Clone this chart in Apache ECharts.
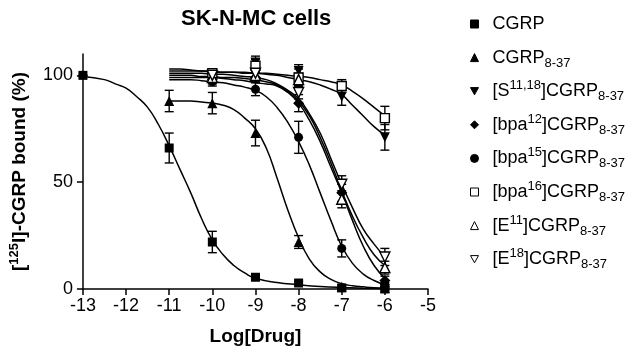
<!DOCTYPE html>
<html lang="en">
<head>
    <meta charset="UTF-8">
    <title>SK-N-MC cells</title>
    <script src="https://cdn.jsdelivr.net/npm/echarts@6/dist/echarts.min.js"></script>
    <style>
        *{
            margin: 0;
            padding: 0;
        }
        body{
            background-color: #fff;
            overflow: hidden;
        }
    </style>
</head>
<body>
<div id="main" style="width:640px;height:354px;"></div>
<script>
    // measured points (log dose, % bound, sem)
    var cgrpX = [-13, -11, -10, -9, -8, -7, -6];
    var cgrpY = [100, 66, 22, 5.5, 2.8, 0.5, 0];
    var cgrpErr = [0, 7, 5, 1, 0.8, 0.5, 0.5];

    var cgrp837X = [-11, -10, -9, -8, -7, -6];
    var cgrp837Y = [88, 87, 73, 22, 1, 0.5];
    var cgrp837Err = [5, 5, 6, 3, 1, 0.5];

    // the analogues were measured from -10 to -6
    var doseX = [-10, -9, -8, -7, -6];
    var s1118Y = [100, 106, 102, 90, 71];
    var s1118Err = [2, 3, 3, 4, 6];
    var bpa12Y = [98, 99, 87, 45, 4];
    var bpa12Err = [2, 2, 4, 4, 2];
    var bpa15Y = [97, 93.5, 71, 19, 2];
    var bpa15Err = [2, 3, 7.5, 4, 1];
    var bpa16Y = [101, 104.5, 99, 95, 80];
    var bpa16Err = [2, 3, 4, 3, 5.5];
    var e11Y = [99, 100, 98, 42, 10];
    var e11Err = [2, 2, 3, 4, 3];
    var e18Y = [100, 101, 92, 49, 15];
    var e18Err = [2, 2, 3, 4, 4];

    // fitted curves
    var cgrpFitX = [-13, -12.5, -12.25, -12, -11.75, -11.5, -11.25, -11, -10.75, -10.5, -10.25, -10, -9.75, -9.5, -9.25, -9, -8.5, -8, -7.5, -7, -6.5, -6];
    var cgrpFitY = [99.5, 98, 96, 94, 90, 85, 77, 67, 56, 45, 33, 23, 16, 11, 7.5, 5, 3, 2, 1.2, 0.7, 0.4, 0.2];

    var fitX = [-11, -10.75, -10.5, -10.25, -10, -9.75, -9.5, -9.25, -9, -8.75, -8.5, -8.25, -8, -7.75, -7.5, -7.25, -7, -6.75, -6.5, -6.25, -6];
    var cgrp837Fit = [88, 88, 88, 87.5, 87, 86, 84, 80, 75, 66, 52, 37, 24, 14, 8, 4.5, 2.5, 1.5, 1, 0.6, 0.4];
    var s1118Fit = [103, 103, 102.5, 102, 102, 101.5, 101.5, 101, 101, 100.5, 100, 99, 98, 97, 95.5, 93.5, 91, 86, 81, 76, 72];
    var bpa12Fit = [99, 99, 99, 99, 99, 98.5, 98, 97.5, 96.5, 96, 95, 92, 87, 79, 69, 57, 45, 32, 20, 11, 5];
    var bpa15Fit = [98, 98, 98, 97.5, 97, 96.5, 95.5, 94.5, 93, 90, 85, 78, 69, 58, 45, 32, 20, 12, 7, 4, 2];
    var bpa16Fit = [102, 102, 102, 102, 101.5, 101.5, 101.5, 101.5, 101, 101, 100.5, 100, 99.5, 99, 98, 97, 95.5, 92.5, 89, 85, 81];
    var e11Fit = [100, 100, 100, 99.5, 99.5, 99, 99, 98.5, 98, 97, 95.5, 92.5, 88, 81, 71, 59, 46, 34, 24, 16, 11];
    var e18Fit = [101, 101, 101, 101, 100.5, 100.5, 100, 99.5, 99, 98, 96, 93, 89, 82, 73, 61, 49, 38, 28, 21, 15];

    var xTicks = [-13, -12, -11, -10, -9, -8, -7, -6, -5];
    var yTicks = [0, 50, 100];

    var names = ['CGRP', 'CGRP8-37', '[S11,18]CGRP8-37', '[bpa12]CGRP8-37', '[bpa15]CGRP8-37', '[bpa16]CGRP8-37', '[E11]CGRP8-37', '[E18]CGRP8-37'];
    var labels = ['CGRP', 'CGRP{sub|8-37}', '[S{sup|11,18}]CGRP{sub|8-37}', '[bpa{sup|12}]CGRP{sub|8-37}', '[bpa{sup|15}]CGRP{sub|8-37}', '[bpa{sup|16}]CGRP{sub|8-37}', '[E{sup|11}]CGRP{sub|8-37}', '[E{sup|18}]CGRP{sub|8-37}'];

    var font = 'Liberation Sans';
    var downTri = 'path://M0,0 L10,0 L5,9 Z';

    var groups = [
        {name: names[0], x: cgrpX, y: cgrpY, err: cgrpErr, fx: cgrpFitX, fy: cgrpFitY, symbol: 'rect', size: 9, open: false},
        {name: names[1], x: cgrp837X, y: cgrp837Y, err: cgrp837Err, fx: fitX, fy: cgrp837Fit, symbol: 'triangle', size: 10, open: false},
        {name: names[2], x: doseX, y: s1118Y, err: s1118Err, fx: fitX, fy: s1118Fit, symbol: downTri, size: 10, open: false},
        {name: names[3], x: doseX, y: bpa12Y, err: bpa12Err, fx: fitX, fy: bpa12Fit, symbol: 'diamond', size: 11, open: false},
        {name: names[4], x: doseX, y: bpa15Y, err: bpa15Err, fx: fitX, fy: bpa15Fit, symbol: 'circle', size: 9, open: false},
        {name: names[5], x: doseX, y: bpa16Y, err: bpa16Err, fx: fitX, fy: bpa16Fit, symbol: 'rect', size: 9, open: true},
        {name: names[6], x: doseX, y: e11Y, err: e11Err, fx: fitX, fy: e11Fit, symbol: 'triangle', size: 10, open: true},
        {name: names[7], x: doseX, y: e18Y, err: e18Err, fx: fitX, fy: e18Fit, symbol: downTri, size: 10, open: true}
    ];

    function pairs(xs, ys) {
        var out = [];
        for (var i = 0; i < xs.length; i++) {
            out.push([xs[i], ys[i]]);
        }
        return out;
    }

    function errorBar(params, api) {
        var x = api.value(0);
        var top = api.coord([x, api.value(2)]);
        var bot = api.coord([x, api.value(1)]);
        var hw = 4.5;
        var st = {stroke: '#000', lineWidth: 1.4};
        return {
            type: 'group',
            children: [
                {type: 'line', shape: {x1: top[0], y1: top[1], x2: bot[0], y2: bot[1]}, style: st},
                {type: 'line', shape: {x1: top[0] - hw, y1: top[1], x2: top[0] + hw, y2: top[1]}, style: st},
                {type: 'line', shape: {x1: bot[0] - hw, y1: bot[1], x2: bot[0] + hw, y2: bot[1]}, style: st}
            ]
        };
    }

    var series = [];
    groups.forEach(function (g) {
        series.push({
            name: g.name + ' fit',
            type: 'line',
            data: pairs(g.fx, g.fy),
            smooth: true,
            showSymbol: false,
            silent: true,
            z: 2,
            lineStyle: {color: '#000', width: 1.5}
        });
        var bars = [];
        for (var i = 0; i < g.x.length; i++) {
            bars.push([g.x[i], g.y[i] - g.err[i], g.y[i] + g.err[i]]);
        }
        series.push({
            name: g.name + ' sem',
            type: 'custom',
            renderItem: errorBar,
            data: bars,
            z: 3,
            silent: true
        });
    });
    groups.forEach(function (g) {
        series.push({
            name: g.name,
            type: 'scatter',
            data: pairs(g.x, g.y),
            symbol: g.symbol,
            symbolSize: g.size,
            z: 4,
            itemStyle: {
                color: g.open ? '#fff' : '#000',
                borderColor: '#000',
                borderWidth: g.open ? 1.4 : 0,
                opacity: 1
            }
        });
    });

    var myChart = echarts.init(document.getElementById('main'));

    var option = {
        backgroundColor: '#fff',
        animation: false,
        title: {
            text: 'SK-N-MC cells',
            left: 176,
            top: 3,
            textStyle: {fontFamily: font, fontSize: 22, fontWeight: 'bold', color: '#000'}
        },
        legend: {
            orient: 'vertical',
            left: 465,
            top: 7,
            itemWidth: 8,
            itemHeight: 8,
            itemGap: 9.6,
            data: names,
            itemStyle: {borderWidth: 1},
            formatter: function (n) {
                return '{g| }' + labels[names.indexOf(n)];
            },
            textStyle: {
                fontFamily: font,
                fontSize: 18,
                color: '#000',
                lineHeight: 24,
                rich: {
                    g: {width: 9},
                    sup: {fontSize: 13, verticalAlign: 'top', lineHeight: 24, fontFamily: font, color: '#000'},
                    sub: {fontSize: 13, verticalAlign: 'bottom', lineHeight: 24, fontFamily: font, color: '#000'}
                }
            }
        },
        grid: {left: 77, right: 212, top: 54, bottom: 65},
        xAxis: {
            type: 'value',
            min: xTicks[0],
            max: xTicks[xTicks.length - 1],
            interval: 1,
            name: 'Log[Drug]',
            nameLocation: 'middle',
            nameGap: 38,
            nameTextStyle: {fontFamily: font, fontSize: 19, fontWeight: 'bold', color: '#000'},
            splitLine: {show: false},
            axisLine: {lineStyle: {color: '#000', width: 1.5}},
            axisTick: {length: 6, lineStyle: {color: '#000', width: 1.5}},
            axisLabel: {margin: 8, fontFamily: font, fontSize: 18, color: '#000'}
        },
        yAxis: {
            type: 'value',
            min: 0,
            max: 110,
            interval: 50,
            name: '[{sup|125}I]-CGRP bound (%)',
            nameLocation: 'middle',
            nameGap: 42,
            nameTextStyle: {
                fontFamily: font, fontSize: 19, fontWeight: 'bold', color: '#000', lineHeight: 24,
                rich: {
                    sup: {fontFamily: font, fontSize: 13, fontWeight: 'bold', color: '#000', verticalAlign: 'top', lineHeight: 24}
                }
            },
            splitLine: {show: false},
            axisLine: {show: true, lineStyle: {color: '#000', width: 1.5}},
            axisTick: {show: true, length: 6, customValues: yTicks, lineStyle: {color: '#000', width: 1.5}},
            axisLabel: {margin: 10, customValues: yTicks, fontFamily: font, fontSize: 18, color: '#000'}
        },
        series: series
    };

    myChart.setOption(option);
</script>
</body>
</html>
